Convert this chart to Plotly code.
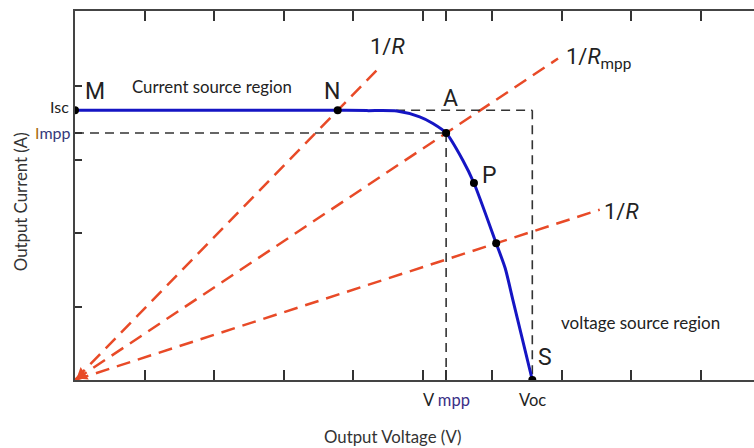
import plotly.graph_objects as go

# Photovoltaic I-V characteristic (output voltage V, output current A)
curve_v = [0.0, 3.78, 4.20, 4.63, 4.96, 5.15, 5.34, 5.58, 5.74, 6.06, 6.19, 6.30, 6.58]
curve_i = [3.67, 3.67, 3.665, 3.66, 3.58, 3.49, 3.36, 2.99, 2.68, 1.86, 1.52, 1.09, 0.0]

# Operating points on the curve: M, N, A, P, (load 3 crossing), S
point_names = ["M", "N", "A", "P", "", "S"]
point_v = [0.0, 3.78, 5.34, 5.74, 6.06, 6.58]
point_i = [3.67, 3.67, 3.36, 2.68, 1.86, 0.0]

isc = 3.67
impp = 3.36
vmpp = 5.34
voc = 6.58

# Resistive load lines through the origin: crossing point index and end voltage
load_through = [1, 2, 4]
load_end_v = [4.39, 6.95, 7.55]
load_labels = ["1/<i>R</i>", "1/<i>R</i><sub>mpp</sub>", "1/<i>R</i>"]

x_ticks = [1, 2, 3, 4, 5, 6, 7, 8, 9, vmpp]
y_ticks = [1, 2, 3, 4, impp]

RED = "#e84a27"
BLUE = "#1515c4"
INK = "#222222"
LETTER_FONT = "Roboto, Liberation Sans, sans-serif"
LABEL_FONT = "Lato, Liberation Sans, sans-serif"

fig = go.Figure()

# load lines
for idx, v_end in zip(load_through, load_end_v):
    slope = point_i[idx] / point_v[idx]
    fig.add_trace(go.Scatter(
        x=[0, v_end], y=[0, slope * v_end], mode="lines",
        line=dict(color=RED, width=2.5, dash="14px,8px"),
        hoverinfo="skip", showlegend=False))

# arrowhead where the load lines meet at the origin
fig.add_trace(go.Scatter(
    x=[0.10], y=[0.068], mode="markers",
    marker=dict(symbol="triangle-left", size=13, angle=-33, color=RED),
    hoverinfo="skip", showlegend=False))

# maximum power point / short-circuit / open-circuit guides
guides = [
    ([0, vmpp], [impp, impp]),
    ([vmpp, vmpp], [impp, 0]),
    ([4.62, voc], [isc, isc]),
    ([voc, voc], [isc, 0]),
]
for gx, gy in guides:
    fig.add_trace(go.Scatter(
        x=gx, y=gy, mode="lines",
        line=dict(color="#333333", width=1.6, dash="9px,6px"),
        hoverinfo="skip", showlegend=False))

# I-V curve
fig.add_trace(go.Scatter(
    x=curve_v, y=curve_i, mode="lines",
    line=dict(color=BLUE, width=3, shape="spline", smoothing=0.7),
    showlegend=False))

# operating points
fig.add_trace(go.Scatter(
    x=point_v, y=point_i, mode="markers",
    marker=dict(color="#000000", size=8),
    showlegend=False))

# point letters
letter_pos = {"M": (0.29, 3.93), "N": (3.70, 3.93), "A": (5.40, 3.83),
              "P": (5.97, 2.78), "S": (6.76, 0.30)}
for name in point_names:
    if not name:
        continue
    lx, ly = letter_pos[name]
    fig.add_annotation(x=lx, y=ly, text=name, showarrow=False,
                       font=dict(family=LETTER_FONT, size=23, color=INK))

# load line labels
label_pos = [(4.50, 4.54), (7.53, 4.38), (7.87, 2.29)]
for (lx, ly), txt in zip(label_pos, load_labels):
    fig.add_annotation(x=lx, y=ly, text=txt, showarrow=False,
                       font=dict(family=LETTER_FONT, size=22, color=INK))

# region labels
fig.add_annotation(x=1.97, y=4.0, text="Current source region", showarrow=False,
                   font=dict(family=LABEL_FONT, size=16.8, color=INK))
fig.add_annotation(x=8.13, y=0.78, text="voltage source region", showarrow=False,
                   font=dict(family=LABEL_FONT, size=17, color=INK))

# special tick labels
fig.add_annotation(x=-0.07, y=0, yshift=-15, text="0", showarrow=False,
                   font=dict(family="Liberation Sans, sans-serif", size=17, color=INK))
fig.add_annotation(x=vmpp, y=0, yshift=-20,
                   text="V <span style='color:#3b2f86'>mpp</span>", showarrow=False,
                   font=dict(family=LABEL_FONT, size=16.5, color=INK))
fig.add_annotation(x=voc, y=0, yshift=-20, text="Voc", showarrow=False,
                   font=dict(family=LABEL_FONT, size=16.5, color=INK))
fig.add_annotation(x=0, y=isc, xshift=-4, yshift=4, xanchor="right", text="Isc",
                   showarrow=False, font=dict(family=LABEL_FONT, size=16, color=INK))
fig.add_annotation(x=0, y=impp, xshift=-2, yshift=1, xanchor="right",
                   text="<span style='color:#a86a10'>I</span><span style='color:#34387a'>mpp</span>",
                   showarrow=False, font=dict(family=LABEL_FONT, size=16, color=INK))

# axis titles
fig.add_annotation(xref="paper", yref="paper", x=0.468, y=-0.152, xanchor="center",
                   yanchor="middle", text="Output Voltage (V)", showarrow=False,
                   font=dict(family=LABEL_FONT, size=16.8, color="#333333"))
fig.add_annotation(xref="paper", yref="paper", x=-0.081, y=0.482, xanchor="center",
                   yanchor="middle", textangle=-90,
                   text="Output Current (A)", showarrow=False,
                   font=dict(family=LABEL_FONT, size=16.8, color="#333333"))

fig.update_xaxes(range=[0, 679 / 69.5], tickvals=x_ticks, showticklabels=False,
                 ticks="inside", ticklen=10, tickcolor="#333333", tickwidth=1.5,
                 showline=True, linecolor="#444444", linewidth=2, mirror="ticks",
                 showgrid=False, zeroline=False)
fig.update_yaxes(range=[0, 369 / 73.5], tickvals=y_ticks, showticklabels=False,
                 ticks="inside", ticklen=7, tickcolor="#333333", tickwidth=1.5,
                 showline=True, linecolor="#444444", linewidth=2, mirror=False,
                 showgrid=False, zeroline=False)

fig.update_layout(width=754, height=448,
                  margin=dict(l=75, r=0, t=11, b=68),
                  plot_bgcolor="white", paper_bgcolor="white")

fig.write_html("out.html")
